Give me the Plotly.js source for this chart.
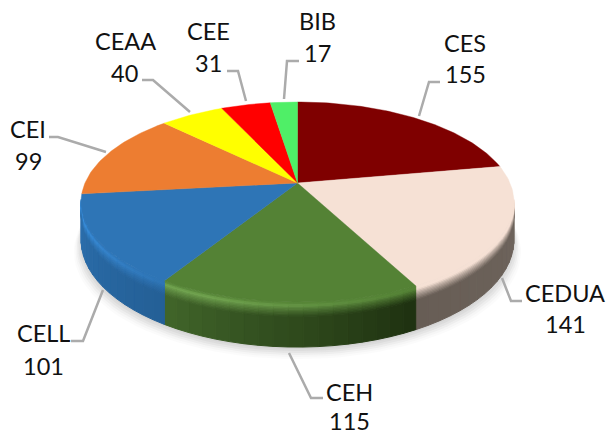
<!DOCTYPE html>
<html><head><meta charset="utf-8">
<script src="https://cdn.plot.ly/plotly-3.0.1.min.js"></script>
<style>html,body{margin:0;padding:0;background:#fff}</style></head>
<body><div id="chart" style="width:607px;height:436px"></div>
<script>
// Data
const categories = ["CES","CEDUA","CEH","CELL","CEI","CEAA","CEE","BIB"];
const values = [155,141,115,101,99,40,31,17];
const topColors = ["#7F0000","#F6E1D5","#548235","#2E75B6","#ED7D31","#FFFF00","#FF0000","#4FEF67"];
const glowColors = ["#7F0000","#F6E1D5","#74A852","#3B93E3","#F58A35","#FFFF00","#FF0000","#4FEF67"];
const sideLeft = ["#5A0000","#675D55","#41652A","#2C70AE","#C96A28","#CCCC00","#CC0000","#3FBF52"];
const sideRight = ["#5A0000","#71675F","#1E3110","#245F96","#C96A28","#CCCC00","#CC0000","#3FBF52"];
// Projection parameters
const cx=297.5, cy=183, a=212.5, b=96.4, p=0.19, depth=36.5;
const total = values.reduce((s,v)=>s+v,0);
function proj(th, z){ // th clockwise from top, z fraction of depth
  const u=Math.sin(th), v=Math.cos(th), w=1+p*v;
  return [cx+a*u/w, cy-(b*v)/w+z*depth/w];
}
function hex(c){return [1,3,5].map(i=>parseInt(c.substr(i,2),16));}
function lerp(A,B,t){return A.map((x,i)=>x+(B[i]-x)*t);}
function css(A){return 'rgb('+A.map(Math.round).join(',')+')';}
const traces=[];
function poly(pts,color,lw){
  traces.push({type:'scatter',mode:'lines',x:pts.map(q=>q[0]).concat(pts[0][0]),y:pts.map(q=>q[1]).concat(pts[0][1]),
    fill:'toself',fillcolor:color,line:{color:color,width:lw===undefined?1:lw},hoverinfo:'skip',showlegend:false});
}
// Shadow
const shadowAlpha=[0.03,0.04,0.06,0.07,0.07,0.07];
for(let s=5;s>=0;s--){
  const pts=[];
  for(let i=0;i<=120;i++){const th=i/120*2*Math.PI;const q=proj(th,1);pts.push([q[0]+(q[0]-cx)*0.0065*s,q[1]+2+s*2]);}
  traces.push({type:'scatter',mode:'lines',x:pts.map(q=>q[0]),y:pts.map(q=>q[1]),fill:'toself',fillcolor:'rgba(120,120,120,'+shadowAlpha[5-s]+')',line:{width:0,color:'rgba(0,0,0,0)'},hoverinfo:'skip',showlegend:false});
}
// Sides + bevel
const bevelEnd=0.32, glowAt=0.07, nBands=10;
let acc=0; const spans=[];
values.forEach((v)=>{const s=acc/total*2*Math.PI;acc+=v;const e=acc/total*2*Math.PI;spans.push([s,e]);});
spans.forEach(([s,e],i)=>{
  const n=Math.max(2,Math.ceil((e-s)/0.06));
  const T=hex(topColors[i]),G=hex(glowColors[i]),L=hex(sideLeft[i]),R=hex(sideRight[i]);
  for(let k=0;k<n;k++){
    const t0=s+(e-s)*k/n,t1=s+(e-s)*(k+1)/n,tm=(t0+t1)/2;
    if(Math.cos(tm)>-p+0.02) continue;
    const f=1-(k+0.5)/n; // 0 at the slice's left end, 1 at its right end
    const sideA=lerp(L,R,f), side=css(sideA);
    const gAmt=Math.max(0,Math.min(1,1.25*(1-f)));
    const peak=lerp(T,G,gAmt);
    const strip=(z0,z1,col)=>{
      const pts=[];
      for(let m=0;m<=3;m++)pts.push(proj(t0+(t1-t0)*m/3,z0));
      for(let m=3;m>=0;m--)pts.push(proj(t0+(t1-t0)*m/3,z1));
      poly(pts,col);
    };
    strip(bevelEnd,1,side);
    for(let q=nBands-1;q>=0;q--){
      const z0=bevelEnd*q/nBands,z1=bevelEnd*(q+1)/nBands,zm=(z0+z1)/2;
      const c=zm<glowAt?lerp(T,peak,zm/glowAt):lerp(peak,sideA,Math.pow((zm-glowAt)/(bevelEnd-glowAt),0.8));
      strip(z0,z1,css(c));
    }
  }
});
// Top faces
spans.forEach(([s,e],i)=>{
  const pts=[[cx,cy]];
  const n=Math.ceil((e-s)/0.02);
  for(let k=0;k<=n;k++)pts.push(proj(s+(e-s)*k/n,0));
  poly(pts,topColors[i],0.4);
});
// Leader lines (pixel routes)
const leaders=[
 [[419,116],[429,82],[440,82]],
 [[502,278],[511,301],[522,301]],
 [[289,353],[311,398],[323,398]],
 [[103,290],[83,341],[71,341]],
 [[106,152],[58,137],[49,137]],
 [[190,112],[153,80],[142,80]],
 [[246,101],[238,71],[227,71]],
 [[284,99],[287,61],[299,61]]
];
leaders.forEach(l=>traces.push({type:'scatter',mode:'lines',x:l.map(q=>q[0]),y:l.map(q=>q[1]),line:{color:'#ABABAB',width:2.5},hoverinfo:'skip',showlegend:false}));
const nameXY=[[465,43],[565,293],[349,392],[43,333],[28,129],[125,41],[208,31],[317,21]];
const valueXY=[[465,74],[565,324],[349,421],[43,366],[28,161],[124,73],[208,63],[317,53]];
const lineFont={family:'Lato',size:23.5,color:'#111111'};
const annotations=[];
categories.forEach((c,i)=>{
  annotations.push({x:nameXY[i][0],y:nameXY[i][1],xref:'x',yref:'y',text:c,showarrow:false,xanchor:'center',yanchor:'middle',font:lineFont});
  annotations.push({x:valueXY[i][0],y:valueXY[i][1],xref:'x',yref:'y',text:String(values[i]),showarrow:false,xanchor:'center',yanchor:'middle',font:lineFont});
});
Plotly.newPlot('chart',traces,{width:607,height:436,margin:{l:0,r:0,t:0,b:0},showlegend:false,paper_bgcolor:'#fff',plot_bgcolor:'#fff',
  xaxis:{range:[0,607],visible:false,fixedrange:true},yaxis:{range:[436,0],visible:false,fixedrange:true},annotations:annotations,hovermode:false},{displayModeBar:false,staticPlot:true});
</script></body></html>
